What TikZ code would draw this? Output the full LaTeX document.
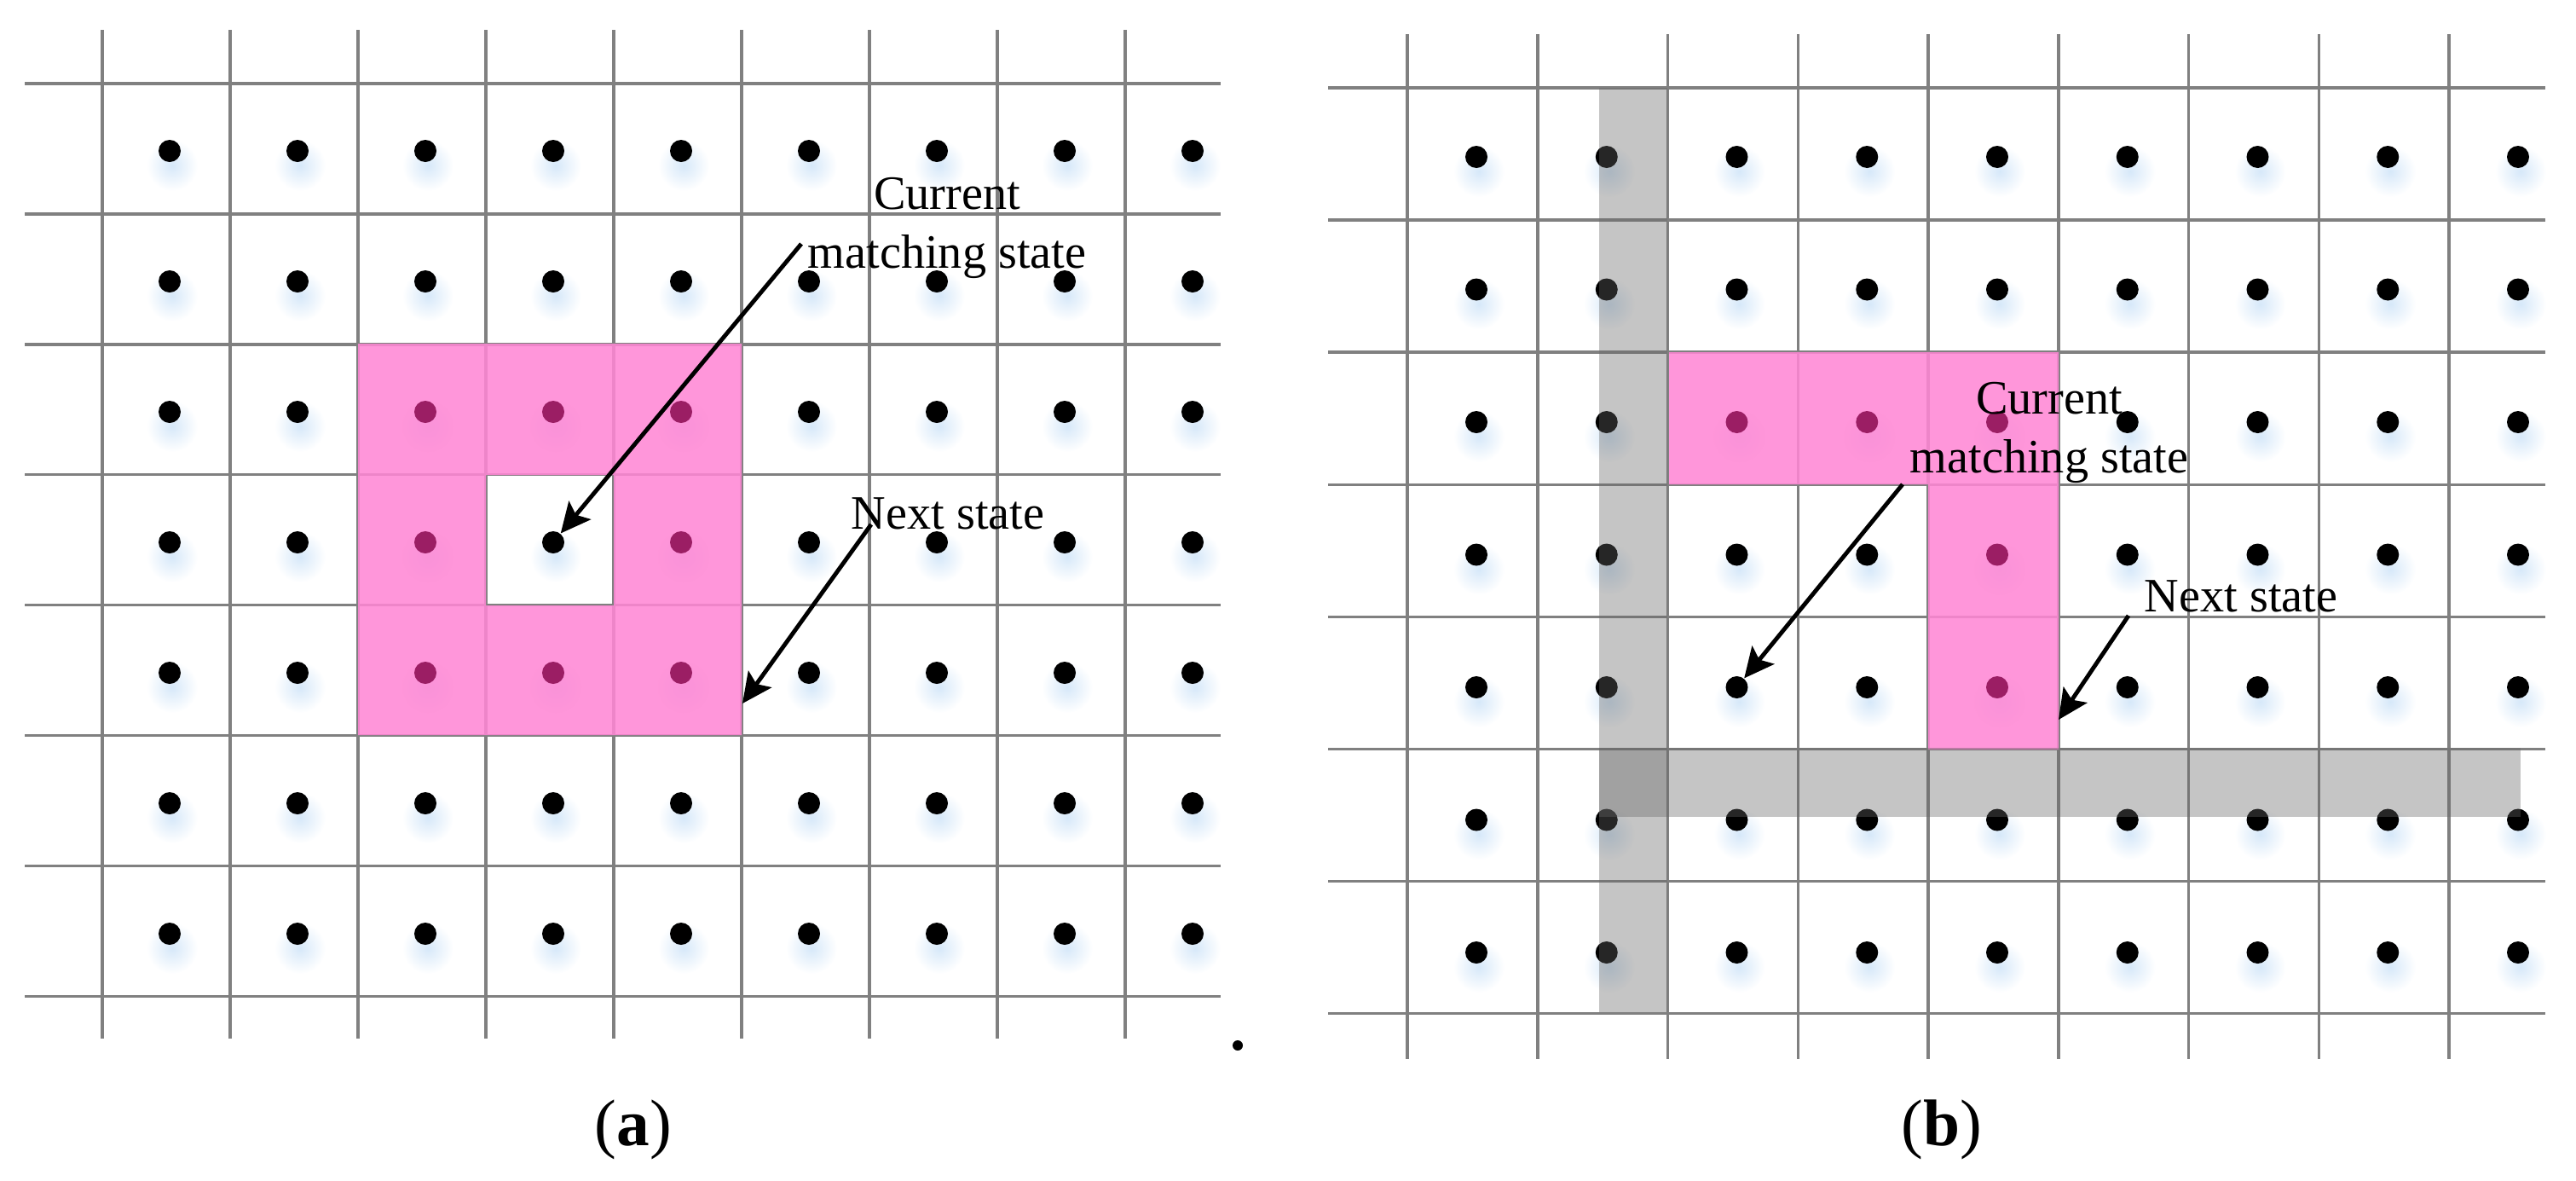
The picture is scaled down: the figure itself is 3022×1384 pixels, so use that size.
\documentclass[tikz,border=0pt]{standalone}
\usepackage{fontspec}
\setmainfont{Liberation Serif}
\usetikzlibrary{arrows.meta}
\definecolor{gridgray}{RGB}{128,128,128}
\definecolor{pinkfill}{RGB}{255,134,212}
\definecolor{magdot}{RGB}{155,30,100}
\definecolor{glowblue}{RGB}{214,232,249}
\definecolor{bargray}{RGB}{102,102,102}
\begin{document}
\begin{tikzpicture}[x=0.1mm,y=-0.1mm,
  gridline/.style={draw=gridgray,line width=1pt},
  dotnode/.style={circle,fill=black,inner sep=0pt,minimum size=2.6mm},
  pinkdot/.style={dotnode,fill=magdot},
  glow/.style={inner color=glowblue,outer color=white},
  pinkcell/.style={fill=pinkfill,fill opacity=0.87},
  greybar/.style={fill=bargray,fill opacity=0.38},
  pointer/.style={draw=black,line width=1.4pt,-{Stealth[length=10pt,width=9.5pt,inset=2pt]}},
  lbl/.style={font=\fontsize{16}{19.5}\selectfont,inner sep=0pt},
  captext/.style={font=\fontsize{22}{26}\selectfont,inner sep=0pt}]
\useasboundingbox (0,0) rectangle (3022,1384);
\setlength{\tabcolsep}{0pt}

% ---------------- panel (a) ----------------
\foreach \i in {0,...,8} \draw[gridline] ({120+150*\i},35) -- ({120+150*\i},1218);
\foreach \j in {0,...,7} \draw[gridline] (29,{98+152.9*\j}) -- (1432,{98+152.9*\j});
\foreach \i in {0,...,8} \foreach \j in {0,...,6}
  \shade[glow] ({199+150*\i+3},{177+153*\j+17}) circle (30);
\fill[pinkcell,even odd rule] (420,403) rectangle (870,862) (570,557) rectangle (720,710);
\foreach \i in {0,...,8} \foreach \j in {0,...,6} {
  \pgfmathtruncatemacro\ispink{and(and(\i>1,\i<5),and(\j>1,\j<5))*(1-and(\i==3,\j==3))}
  \ifnum\ispink=1
    \node[pinkdot] (a-\i-\j) at ({199+150*\i},{177+153*\j}) {};
  \else
    \node[dotnode] (a-\i-\j) at ({199+150*\i},{177+153*\j}) {};
  \fi
}
\node[circle,fill=black,inner sep=0pt,minimum size=1.2mm] (period) at (1452,1226) {};

\node[lbl,anchor=base] (curA) at (1111,314) {\begin{tabular}[b]{c}Current\\matching state\end{tabular}};
\node[lbl,anchor=base] (nextA) at (1112,620) {Next state};
\coordinate (cA) at (940,286);
\coordinate (nA) at (1022,615);
\coordinate (nAend) at (871,825);
\draw[pointer] (cA) -- (a-3-3);
\draw[pointer] (nA) -- (nAend);
\node[captext,anchor=base] (capA) at (743,1343) {(\textbf{a})};

% ---------------- panel (b) ----------------
\foreach \i in {0,...,8} \draw[gridline] ({1651+152.75*\i},40) -- ({1651+152.75*\i},1242);
\foreach \j in {0,...,7} \draw[gridline] (1558,{103+155.1*\j}) -- (2986,{103+155.1*\j});
\foreach \i in {0,...,8} \foreach \j in {0,...,6}
  \shade[glow] ({1732+152.75*\i+3},{184+155.5*\j+17}) circle (30);
\fill[pinkcell] (1958,413) -- (2415,413) -- (2415,879) -- (2262,879) -- (2262,568) -- (1958,568) -- cycle;
\foreach \i in {0,...,8} \foreach \j in {0,...,6} {
  \pgfmathtruncatemacro\ispink{or(and(\j==2,and(\i>1,\i<5)),and(\i==4,and(\j>2,\j<5)))}
  \ifnum\ispink=1
    \node[pinkdot] (b-\i-\j) at ({1732+152.75*\i},{184+155.5*\j}) {};
  \else
    \node[dotnode] (b-\i-\j) at ({1732+152.75*\i},{184+155.5*\j}) {};
  \fi
}
\fill[greybar] (1876,103) rectangle (1956,1187);
\fill[greybar] (1876,877) rectangle (2957,958);

\node[lbl,anchor=base] (curB) at (2404,554) {\begin{tabular}[b]{c}Current\\matching state\end{tabular}};
\node[lbl,anchor=base] (nextB) at (2629,717) {Next state};
\coordinate (cB) at (2232,568);
\coordinate (nB) at (2497,722);
\coordinate (nBend) at (2415,844);
\draw[pointer] (cB) -- (b-2-4);
\draw[pointer] (nB) -- (nBend);
\node[captext,anchor=base] (capB) at (2278,1343) {(\textbf{b})};
\end{tikzpicture}
\end{document}
